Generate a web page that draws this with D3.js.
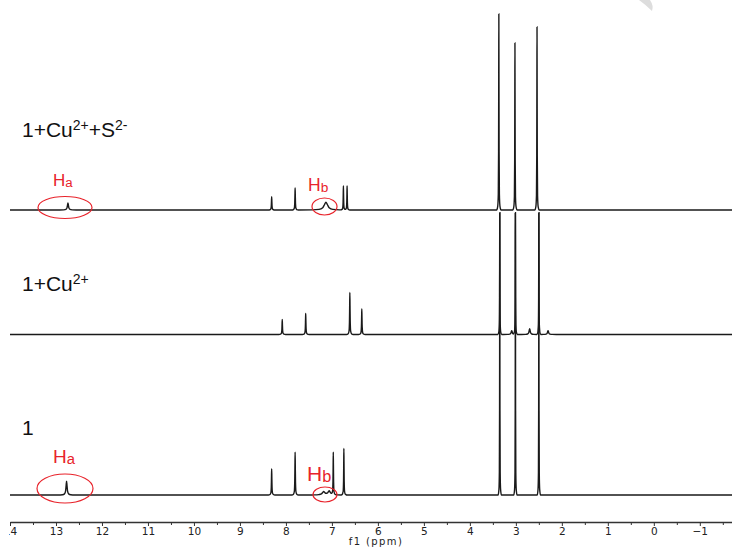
<!DOCTYPE html>
<html>
<head>
<meta charset="utf-8">
<script src="https://cdn.jsdelivr.net/npm/d3@7"></script>
<style>
  body { margin: 0; background: #fff; }
  svg { display: block; }
  .tick text { font-family: "DejaVu Sans", sans-serif; font-size: 10.5px; fill: #222; }
  .axis path, .axis line { stroke: #333; }
</style>
</head>
<body>
<div id="chart"></div>
<script>
// ppm axis ticks
const majorTicks = [14, 13, 12, 11, 10, 9, 8, 7, 6, 5, 4, 3, 2, 1, 0, -1];
const minorTicks = [13.5, 12.5, 11.5, 10.5, 9.5, 8.5, 7.5, 6.5, 5.5, 4.5, 3.5, 2.5, 1.5, 0.5, -0.5, -1.5];

// spectrum "1+Cu2+ +S2-" (top)
const topPpm = [12.74, 8.31, 7.80, 7.13, 6.75, 6.67, 3.37, 3.02, 2.54];
const topInt = [3.6, 6.8, 11.2, 4.0, 12.2, 12.2, 100, 85.2, 93.4];
const topWid = [0.03, 0.012, 0.012, 0.1, 0.01, 0.01, 0.008, 0.008, 0.008];

// spectrum "1+Cu2+" (middle)
const midPpm = [8.08, 7.57, 6.61, 6.35, 3.35, 3.09, 3.01, 2.70, 2.50, 2.30];
const midInt = [7.7, 10.7, 21.4, 13, 62, 2, 62, 3, 62, 2];
const midWid = [0.012, 0.012, 0.012, 0.012, 0.007, 0.03, 0.007, 0.03, 0.007, 0.03];

// spectrum "1" (bottom)
const botPpm = [12.77, 8.31, 7.80, 7.18, 7.06, 6.97, 6.74, 3.35, 3.01, 2.50];
const botInt = [7.1, 13.3, 21.8, 1.7, 2.1, 21.6, 23.8, 144, 144, 144];
const botWid = [0.03, 0.012, 0.012, 0.07, 0.06, 0.01, 0.01, 0.006, 0.006, 0.006];

// lineshape template (offset in widths, relative height)
const shape = [[-6, 0], [-3, 0.02], [-1.5, 0.08], [-0.7, 0.3], [-0.3, 0.7], [0, 1], [0.3, 0.7], [0.7, 0.3], [1.5, 0.08], [3, 0.02], [6, 0]];

const width = 732, height = 547;
const svg = d3.select("#chart").append("svg").attr("width", width).attr("height", height);

const x = d3.scaleLinear().domain([14, -1.7]).range([10, 732]);
const h = d3.scaleLinear().domain([0, 100]).range([0, 196]);

svg.append("defs").append("clipPath").attr("id", "clip")
  .append("rect").attr("x", 9).attr("y", 0).attr("width", width - 9).attr("height", height);

const g = svg.append("g").attr("clip-path", "url(#clip)");

// faint watermark corner
g.append("path").attr("d", "M639,0 L650,0 Q654,6 652,11 Q646,5 639,0 Z").attr("fill", "#ddd");

function peakAt(p, ppm) {
  const u = (ppm - p.ppm) / p.w;
  if (u <= -6 || u >= 6) return 0;
  for (let k = 1; k < shape.length; k++) {
    if (u <= shape[k][0]) {
      const [u0, v0] = shape[k - 1], [u1, v1] = shape[k];
      return p.h * (v0 + (v1 - v0) * (u - u0) / (u1 - u0));
    }
  }
  return 0;
}

function buildSpectrum(ppms, ints, wids) {
  const peaks = ppms.map((d, i) => ({ ppm: d, h: ints[i], w: wids[i] }));
  let pts = [x.domain()[0], x.domain()[1]];
  peaks.forEach(p => shape.forEach(s => pts.push(p.ppm + s[0] * p.w)));
  pts = Array.from(new Set(pts)).sort((a, b) => b - a);
  return pts.map(q => [q, d3.sum(peaks, p => peakAt(p, q))]);
}

const spectra = [
  { base: 210, pts: buildSpectrum(topPpm, topInt, topWid) },
  { base: 334.5, pts: buildSpectrum(midPpm, midInt, midWid) },
  { base: 495, pts: buildSpectrum(botPpm, botInt, botWid) }
];

spectra.forEach(s => {
  const line = d3.line().x(d => x(d[0])).y(d => s.base - h(d[1])).curve(d3.curveMonotoneX);
  g.append("path").datum(s.pts).attr("d", line)
    .attr("fill", "none").attr("stroke", "#1a1a1a").attr("stroke-width", 1.4);
});

// axis
const axisG = g.append("g").attr("class", "axis").attr("transform", "translate(0,522)")
  .call(d3.axisBottom(x).tickValues(majorTicks).tickSize(4).tickSizeOuter(0).tickFormat(d3.format("d")));
axisG.select(".domain").attr("stroke-width", 1.5);
axisG.selectAll(".tick text").attr("y", 6);
g.append("g").attr("class", "axis").attr("transform", "translate(0,522)")
  .call(d3.axisBottom(x).tickValues(minorTicks).tickSize(3).tickFormat(""))
  .select(".domain").remove();

svg.append("text").attr("x", 376).attr("y", 545).attr("text-anchor", "middle")
  .style("font-family", "DejaVu Sans, sans-serif").style("font-size", "10px")
  .style("letter-spacing", "1.4px").attr("fill", "#222")
  .text("f1 (ppm)");

// spectrum labels
const labelParts = [
  [["1+Cu", 0], ["2+", 1], ["+S", 0], ["2-", 1]],
  [["1+Cu", 0], ["2+", 1]],
  [["1", 0]]
];
const labelY = [137, 291, 435];
labelParts.forEach((parts, i) => {
  const t = svg.append("text").attr("x", 22).attr("y", labelY[i])
    .style("font-family", "Liberation Sans, Arial, sans-serif").style("font-size", "21px").attr("fill", "#111");
  parts.forEach(([s, sup]) => {
    t.append("tspan").attr("y", sup ? labelY[i] - 7 : labelY[i])
      .style("font-size", sup ? "14px" : "21px").text(s);
  });
});

// red proton annotations
const red = "#e8232b";
const protonLabels = [
  { t: "H", s: "a", x: 53, y: 186, size: 17, cx: 65, cy: 207.5, rx: 27, ry: 11 },
  { t: "H", s: "b", x: 308, y: 191, size: 17.5, cx: 324.5, cy: 206.5, rx: 12.5, ry: 8.5 },
  { t: "H", s: "a", x: 53, y: 463, size: 19, cx: 65, cy: 488.5, rx: 28, ry: 14.5 },
  { t: "H", s: "b", x: 307, y: 481, size: 21, cx: 325, cy: 494.5, rx: 12, ry: 7.5 }
];
protonLabels.forEach(d => {
  const t = svg.append("text").attr("x", d.x).attr("y", d.y)
    .style("font-family", "Liberation Sans, Arial, sans-serif").style("font-size", d.size + "px").attr("fill", red);
  t.append("tspan").text(d.t);
  t.append("tspan").attr("y", d.y + 1).style("font-size", (d.size * 0.78) + "px").text(d.s);
  svg.append("ellipse").attr("cx", d.cx).attr("cy", d.cy).attr("rx", d.rx).attr("ry", d.ry)
    .attr("fill", "none").attr("stroke", red).attr("stroke-width", 1.2);
});
</script>
</body>
</html>
